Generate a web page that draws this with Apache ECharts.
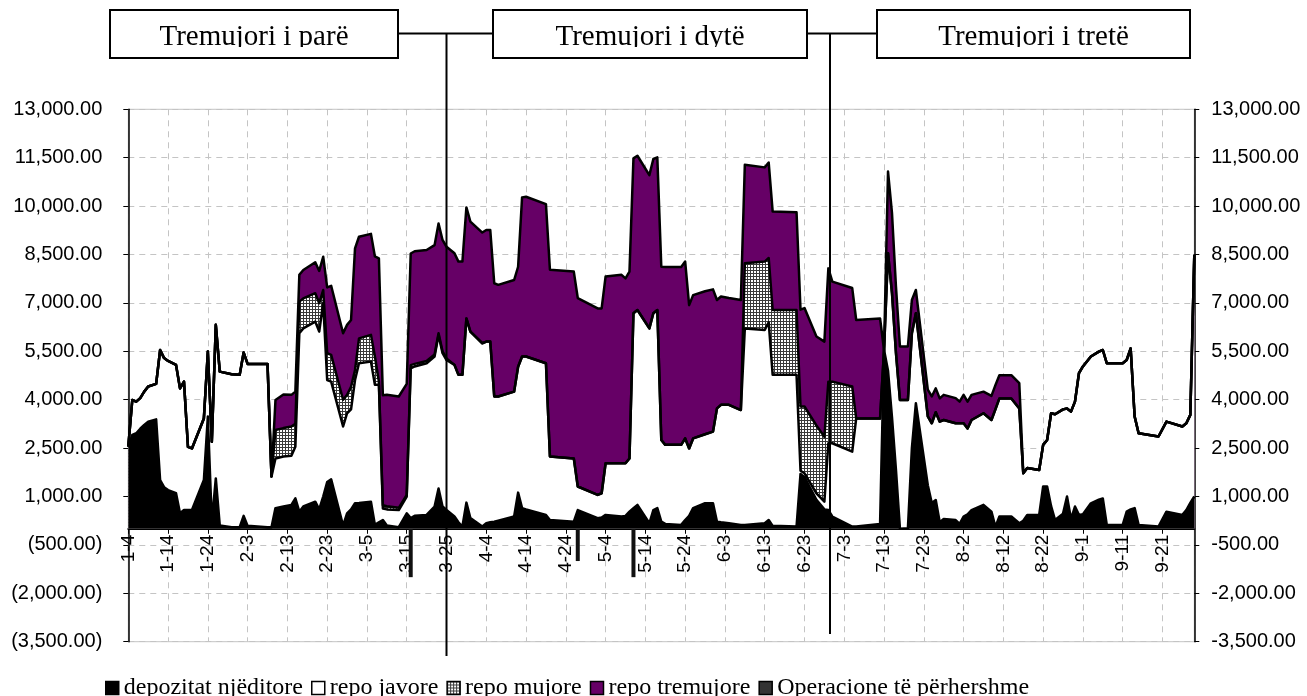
<!DOCTYPE html>
<html><head><meta charset="utf-8">
<script src="https://cdn.jsdelivr.net/npm/echarts@6/dist/echarts.min.js"></script>
<style>html,body{margin:0;padding:0;background:#fff}#c{width:1307px;height:696px}</style>
</head><body><div id="c"></div>
<script>
// ---- data ----
const dates = ['1-4','1-5','1-6','1-7','1-8','1-9','1-11','1-12','1-13','1-14','1-16','1-17','1-18','1-19','1-20','1-23','1-24','1-25','1-26','1-27','1-30',
'2-1','2-2','2-3','2-8','2-9','2-10','2-12','2-14','2-15','2-16','2-17','2-20','2-21','2-22','2-23','2-24','2-27','2-28',
'3-1','3-2','3-3','3-6','3-7','3-8','3-9','3-10','3-13','3-15','3-16','3-17','3-20','3-22','3-23','3-24','3-25','3-27','3-28','3-29','3-30','3-31',
'4-3','4-4','4-5','4-6','4-7','4-11','4-12','4-13','4-14','4-19','4-20','4-26','4-27',
'5-2','5-3','5-4','5-8','5-9','5-10','5-11','5-12','5-15','5-16','5-17','5-18','5-19','5-23','5-24','5-25','5-26','5-29','5-31',
'6-1','6-2','6-4','6-7','6-8','6-13','6-14','6-15','6-21','6-22','6-23','6-26','6-28','6-29','6-30',
'7-5','7-6','7-12','7-13','7-14','7-15','7-16','7-17','7-19','7-20','7-21','7-24','7-25','7-26','7-27','7-28','7-31',
'8-1','8-2','8-3','8-4','8-7','8-9','8-10','8-11','8-14','8-16','8-17','8-18','8-21','8-22','8-23','8-24','8-25','8-27','8-28','8-29','8-30','8-31',
'9-1','9-3','9-5','9-6','9-7','9-11','9-12','9-13','9-14','9-15','9-20','9-22','9-26','9-27','9-28','9-29'];

const depozitat = [2550,2910,2960,3100,3220,3320,3390,1510,1290,1200,1100,480,580,580,580,1510,3480,200,1560,100,50,
50,400,90,50,50,640,690,740,940,530,690,840,600,1000,1450,1530,100,480,
600,790,800,840,120,200,270,100,50,480,330,400,430,690,1250,690,580,380,200,70,810,330,
70,170,200,220,250,380,1120,640,600,430,270,220,580,
330,350,430,380,400,530,640,740,170,580,640,220,150,120,270,400,640,790,790,
220,200,170,120,120,170,270,90,70,1700,1600,900,600,580,380,
70,70,150,5540,4900,3450,1820,0,20,2500,3890,1350,800,890,200,300,270,
150,380,450,580,740,530,60,380,380,170,250,430,430,1310,1310,700,270,470,1000,300,690,430,
450,790,900,940,120,120,530,600,640,120,70,530,430,580,800,1000];

const repoJavore = [0,1080,980,950,1030,1090,1100,4030,4000,4000,3980,3870,3980,1960,1910,1910,2010,2500,4760,4770,4740,
4720,5060,5020,5060,1570,1540,1550,1520,1600,5530,5520,5580,5510,6000,3160,3030,3070,3100,
3100,3820,4330,4340,4340,4260,360,500,530,520,4640,4630,4700,4650,4760,4750,4650,4700,4570,4700,5710,5780,
5680,5630,5600,3880,3850,3870,3900,4700,4740,4700,1970,1960,730,
720,750,1600,1650,1630,1650,6040,6040,6040,6100,6140,2530,2450,2480,2530,2090,2160,2140,2220,
3510,3640,3670,3560,6090,5990,6130,4680,4700,100,120,200,240,2070,2270,
2320,3350,3270,0,3640,3850,3620,3990,3970,3560,2790,2130,2470,2720,3120,3070,3000,
3120,2890,2660,2790,2840,2840,3640,3660,3660,3560,1470,1450,1390,1290,1440,2880,3280,3230,2730,3330,3250,4390,
4580,4550,4590,4600,5010,5010,4700,4990,2840,2840,2790,2790,2740,2690,2730,7490];

const repoMujore = [0,0,0,0,0,0,0,0,0,0,0,0,0,0,0,0,0,0,0,0,0,
0,0,0,0,0,880,880,910,710,980,930,880,880,400,830,830,830,570,
700,310,770,830,880,100,100,100,70,50,100,80,70,60,50,60,50,0,0,0,0,0,
0,0,0,0,0,0,0,0,0,0,0,0,0,
0,0,0,0,0,0,0,0,0,0,0,0,0,0,0,0,0,0,0,
0,0,0,0,2020,2120,1990,2010,2010,1990,2070,2100,2010,1910,1910,
2020,0,0,0,0,0,0,0,0,0,0,0,0,0,0,0,0,
0,0,0,0,0,0,0,0,0,0,0,0,0,0,0,0,0,0,0,0,0,0,
0,0,0,0,0,0,0,0,0,0,0,0,0,0,0,0];

const repoTremujore = [0,0,0,0,0,0,0,0,0,0,0,0,0,0,0,0,0,0,0,0,0,
0,0,0,0,0,930,1040,980,1000,830,880,960,1000,1030,2040,2140,2060,2170,
2070,3770,3150,3130,3100,3820,3410,3450,3450,3440,3460,3490,3440,3390,3400,3450,3460,3460,3510,3510,3440,3410,
3430,3460,3460,3510,3460,3460,3100,4930,4950,4930,5790,5790,5840,
5780,5730,5790,5840,5730,5790,4800,4780,4750,4780,4730,5370,5510,5510,5480,4440,4440,4430,4410,
3360,3360,3310,3410,3050,2920,2960,3050,3030,3000,3050,2760,2950,3510,3100,
3050,3050,3100,0,2530,2480,2060,1660,1660,1030,720,830,830,740,720,780,780,
670,880,830,780,670,750,750,720,720,780,0,0,0,0,0,0,0,0,0,0,0,0,
0,0,0,0,0,0,0,0,0,0,0,0,0,0,0,0];

const opsDates = ['3-16','4-27','5-11'];
const opsValues = [-1500,-1000,-1500];

const tickLabels = ['1-4','1-14','1-24','2-3','2-13','2-23','3-5','3-15','3-25','4-4','4-14','4-24','5-4','5-14','5-24','6-3','6-13','6-23','7-3','7-13','7-23','8-2','8-12','8-22','9-1','9-11','9-21'];
const seriesNames = ['depozitat njëditore','repo javore','repo mujore','repo tremujore','Operacione të përhershme'];
const quarterTitles = ['Tremujori i parë','Tremujori i dytë','Tremujori i tretë'];

// ---- helpers ----
function dayIndex(s){const p=s.split('-').map(Number);return Math.round((Date.UTC(2010,p[0]-1,p[1])-Date.UTC(2010,0,4))/864e5);}
const xs = dates.map(dayIndex);
const lvl1 = depozitat.map(v=>v);
const lvl2 = lvl1.map((v,i)=>v+repoJavore[i]);
const lvl3 = lvl2.map((v,i)=>v+repoMujore[i]);
const lvl4 = lvl3.map((v,i)=>v+repoTremujore[i]);

const pc=document.createElement('canvas');pc.width=3;pc.height=3;
const g=pc.getContext('2d');g.fillStyle='#fff';g.fillRect(0,0,3,3);g.fillStyle='#3a3a3a';g.fillRect(0,0,3,1);g.fillRect(0,0,1,3);
const checker={image:pc,repeat:'repeat'};
const colors={dep:'#000000',jav:'#ffffff',muj:checker,tre:'#660066',ops:'#333333'};

function num(v){return Math.abs(v).toLocaleString('en-US',{minimumFractionDigits:2,maximumFractionDigits:2});}
function area(name,lvl,fill){
  return {name:name,type:'line',data:xs.map((x,i)=>[x,lvl[i]]),symbol:'none',showSymbol:false,
    lineStyle:{color:'#000',width:2.5,join:'round'},itemStyle:{color:fill,borderColor:'#000'},
    areaStyle:{color:fill,opacity:1},emphasis:{disabled:true},silent:true};
}
const FONT='"Liberation Sans", Arial, sans-serif';
const SERIF='"Liberation Serif", "Times New Roman", serif';
const gridLine={show:true,lineStyle:{color:'#c4c4c4',width:1,type:[6,5]}};

const GT=109.3, GB=54.3, H=696;
const gridH=H-GT-GB;
const zeroOffset=-(gridH*3500/16500); // move the date axis up to value 0

const boxes=[[110,398],[493,807],[877,1190]];
const graphic=[];
const L={stroke:'#000',lineWidth:2};
graphic.push({type:'line',shape:{x1:397,y1:33.5,x2:494,y2:33.5},style:L,z:100});
graphic.push({type:'line',shape:{x1:806,y1:33.5,x2:878,y2:33.5},style:L,z:100});
graphic.push({type:'line',shape:{x1:446.5,y1:33.5,x2:446.5,y2:656},style:L,z:100});
graphic.push({type:'line',shape:{x1:830,y1:33.5,x2:830,y2:634},style:L,z:100});
boxes.forEach((b,i)=>{
  graphic.push({type:'rect',shape:{x:b[0],y:10,width:b[1]-b[0],height:48},style:{fill:'#fff',stroke:'#000',lineWidth:2},z:100});
  graphic.push({type:'text',z:101,style:{text:quarterTitles[i],x:(b[0]+b[1])/2,y:37,textAlign:'center',align:'center',textVerticalAlign:'middle',verticalAlign:'middle',font:'29px '+SERIF,fill:'#000'}});
  graphic.push({type:'rect',shape:{x:b[0]+1.5,y:47,width:b[1]-b[0]-3,height:9.6},style:{fill:'#fff'},z:102});
});

const chart=echarts.init(document.getElementById('c'),null,{renderer:'canvas'});
chart.setOption({
  animation:false,
  backgroundColor:'#fff',
  grid:{left:128.3,right:112.7,top:GT,bottom:GB,show:true,borderColor:'#c4c4c4',borderWidth:1},
  xAxis:{type:'value',min:0,max:268,interval:10,position:'bottom',offset:zeroOffset,
    axisLine:{onZero:false,lineStyle:{color:'#000',width:2}},
    axisTick:{show:true,length:5,lineStyle:{color:'#000'}},
    axisLabel:{rotate:90,margin:6,fontFamily:FONT,fontSize:19,color:'#000',showMaxLabel:false,
      formatter:v=>(v%10===0&&v/10<tickLabels.length)?tickLabels[v/10]:''},
    splitLine:gridLine},
  yAxis:[
    {type:'value',min:-3500,max:13000,interval:1500,position:'left',
      axisLine:{show:true,onZero:false,lineStyle:{color:'#000',width:1.5}},
      axisTick:{show:true,length:5,lineStyle:{color:'#000'}},
      axisLabel:{margin:26,fontFamily:FONT,fontSize:20,color:'#000',formatter:v=>v<0?'('+num(v)+')':num(v)},
      splitLine:gridLine},
    {type:'value',min:-3500,max:13000,interval:1500,position:'right',
      axisLine:{show:true,onZero:false,lineStyle:{color:'#000',width:1.5}},
      axisTick:{show:true,length:5,lineStyle:{color:'#000'}},
      axisLabel:{margin:17,fontFamily:FONT,fontSize:20,color:'#000',formatter:v=>(v<0?'-':'')+num(v)},
      splitLine:{show:false}}
  ],
  legend:{left:100,top:671,itemWidth:13,itemHeight:13,itemGap:8,icon:'rect',selectedMode:false,
    textStyle:{fontFamily:SERIF,fontSize:24,color:'#000'},
    data:[
      {name:seriesNames[0],itemStyle:{color:colors.dep,borderColor:'#000',borderWidth:1.5}},
      {name:seriesNames[1],itemStyle:{color:colors.jav,borderColor:'#000',borderWidth:1.5}},
      {name:seriesNames[2],itemStyle:{color:colors.muj,borderColor:'#000',borderWidth:1.5}},
      {name:seriesNames[3],itemStyle:{color:colors.tre,borderColor:'#000',borderWidth:1.5}},
      {name:seriesNames[4],itemStyle:{color:colors.ops,borderColor:'#000',borderWidth:1.5}}
    ]},
  series:[
    area(seriesNames[3],lvl4,colors.tre),
    area(seriesNames[2],lvl3,colors.muj),
    area(seriesNames[1],lvl2,colors.jav),
    area(seriesNames[0],lvl1,colors.dep),
    {name:seriesNames[4],type:'bar',barWidth:4,data:opsDates.map((s,i)=>[dayIndex(s),opsValues[i]]),
      itemStyle:{color:'#111'},silent:true}
  ],
  graphic:graphic
});
</script></body></html>
